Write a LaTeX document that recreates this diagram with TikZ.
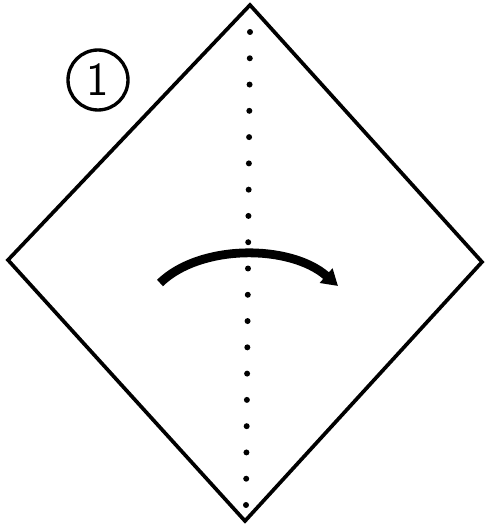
\documentclass[tikz,border=0pt]{standalone}
\usepackage{tikz}
\usetikzlibrary{arrows.meta}
\usetikzlibrary{calc}

\begin{document}
\begin{tikzpicture}[
		x=0.02cm, y=-0.02cm,
		edge/.style={
			draw=black, line width=2.1pt, line join=miter
		},
		crease/.style={
			fill=black
		},
		turn/.style={
			draw=black, line width=5pt,
			-{Triangle[length=9pt, width=10.5pt]}
		},
		stepno/.style={
			circle, draw=black, line width=1.9pt,
			minimum size=1.2cm, inner sep=0pt,
			font=\fontsize{27}{27}\selectfont\sffamily
		}
		]
		
		\useasboundingbox (0,0) rectangle (485,527);
		
		\coordinate (top)    at (250,   5);
		\coordinate (left)   at (8,   260);
		\coordinate (bottom) at (245, 521);
		\coordinate (right)  at (482, 262);
		
		\draw[edge] (top) -- (right) -- (bottom) -- (left) -- cycle;
		
		\coordinate (dtop) at (250,  32);
		\coordinate (dbot) at (246, 505);
		\foreach \i in {0,...,18}
			\fill[crease] ($(dtop)!\i/18!(dbot)$) circle (1.7pt);
		
		\node[stepno] (one) at (98, 80) {1};
		
		\coordinate (from) at (160, 283);
		\coordinate (to)   at (338, 286);
		\draw[turn] (from) .. controls (200,244) and (290,244) .. (to);
		
	\end{tikzpicture}
\end{document}
